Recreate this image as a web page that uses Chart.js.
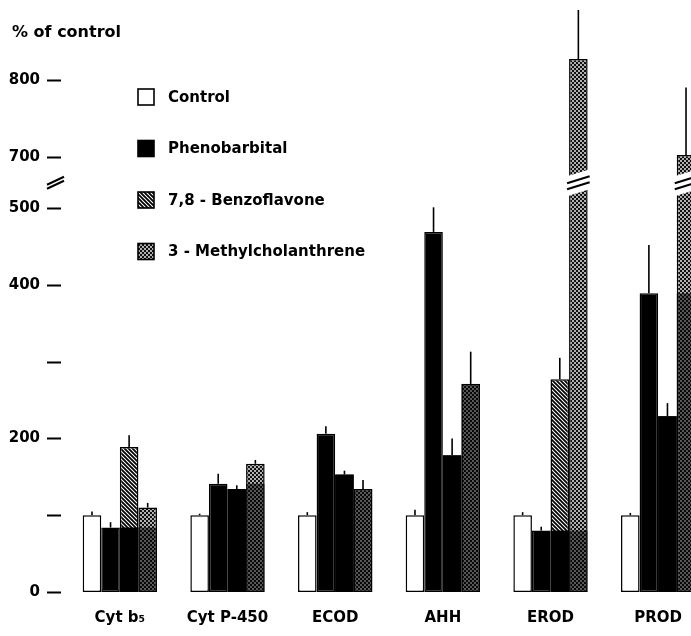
<!DOCTYPE html>
<html>
<head>
<meta charset="utf-8">
<script src="https://cdn.jsdelivr.net/npm/chart.js@4.4.1/dist/chart.umd.min.js"></script>
<style>
    html, body { margin: 0; padding: 0; background: #fff; overflow: hidden; }
    #wrap { width: 712px; height: 636px; position: relative; }
</style>
</head>
<body>
<div id="wrap"><canvas id="chart"></canvas></div>
<script>
// values in % of control, *Top = mean + SD (upper whisker end)
const categories = ["Cyt b\u2085", "Cyt P-450", "ECOD", "AHH", "EROD", "PROD"];
const seriesNames = ["Control", "Phenobarbital", "7,8 - Benzoflavone", "3 - Methylcholanthrene"];

const control = [100, 100, 100, 100, 100, 100];
const controlTop = [105, 102, 104, 107, 104, 103];
const phenobarbital = [84, 141, 206, 469, 80, 389];
const phenobarbitalTop = [91, 154, 216, 501, 85, 452];
const benzoflavone = [189, 134, 153, 178, 277, 229];
const benzoflavoneTop = [204, 139, 158, 200, 305, 246];
const methylcholanthrene = [110, 167, 134, 271, 827, 702];
const methylcholanthreneTop = [116, 172, 146, 313, 891, 790];

const tickValues = [0, 100, 200, 300, 400, 500, 700, 800];
const tickLabels = ["0", "", "200", "", "400", "500", "700", "800"];

// broken axis: everything from 700 up is shifted down
const AXIS_GAP = 133;
const BREAK_AT = 533;
function toDisplay(v) {
    return v >= 700 ? v - AXIS_GAP : v;
}

const values = [control, phenobarbital, benzoflavone, methylcholanthrene];
const tops = [controlTop, phenobarbitalTop, benzoflavoneTop, methylcholanthreneTop];

function makePattern(draw) {
    const c = document.createElement("canvas");
    c.width = 4;
    c.height = 4;
    const g = c.getContext("2d");
    draw(g);
    return g.createPattern(c, "repeat");
}

const hatch = makePattern(g => {
    g.fillStyle = "#fff";
    g.fillRect(0, 0, 4, 4);
    g.strokeStyle = "#000";
    g.lineWidth = 1.8;
    g.beginPath();
    g.moveTo(-1, -1); g.lineTo(5, 5);
    g.moveTo(-1, 3); g.lineTo(1, 5);
    g.moveTo(3, -1); g.lineTo(5, 1);
    g.stroke();
});

const dots = makePattern(g => {
    g.fillStyle = "#111";
    g.fillRect(0, 0, 4, 4);
    g.fillStyle = "#fff";
    g.beginPath();
    g.arc(1, 1, 0.9, 0, Math.PI * 2);
    g.arc(3, 3, 0.9, 0, Math.PI * 2);
    g.fill();
});

const fills = ["#fff", "#000", hatch, dots];

const extras = {
    id: "extras",
    afterDatasetsDraw(chart) {
        const ctx = chart.ctx;
        const y = chart.scales.y;
        const metas = values.map((v, i) => chart.getDatasetMeta(i));

        ctx.save();

        // print makes the lower part of the shaded bars look black
        [2, 3].forEach(d => {
            metas[d].data.forEach((bar, i) => {
                const lvl = Math.min(phenobarbital[i], values[d][i]);
                const yTop = y.getPixelForValue(toDisplay(lvl));
                ctx.fillStyle = d === 2 ? "#000" : "rgba(0,0,0,0.5)";
                ctx.fillRect(bar.x - bar.width / 2, yTop, bar.width, bar.base - yTop);
            });
        });

        // error bars
        ctx.strokeStyle = "#000";
        ctx.lineWidth = 1.6;
        metas.forEach((meta, d) => {
            meta.data.forEach((bar, i) => {
                const yErr = y.getPixelForValue(toDisplay(tops[d][i]));
                ctx.beginPath();
                ctx.moveTo(bar.x, bar.y);
                ctx.lineTo(bar.x, yErr);
                ctx.stroke();
            });
        });

        // break marks on the tall bars
        const yc = y.getPixelForValue(BREAK_AT);
        const s = 7;
        metas.forEach((meta, d) => {
            meta.data.forEach((bar, i) => {
                if (values[d][i] < 700) return;
                const x0 = bar.x - bar.width / 2 - 2;
                const x1 = bar.x + bar.width / 2 + 2;
                ctx.fillStyle = "#fff";
                ctx.beginPath();
                ctx.moveTo(x0, yc + s / 2 - 10);
                ctx.lineTo(x1, yc - s / 2 - 10);
                ctx.lineTo(x1, yc - s / 2 + 10);
                ctx.lineTo(x0, yc + s / 2 + 10);
                ctx.closePath();
                ctx.fill();
                ctx.lineWidth = 2;
                [-3, 3].forEach(o => {
                    ctx.beginPath();
                    ctx.moveTo(x0, yc + s / 2 + o);
                    ctx.lineTo(x1, yc - s / 2 + o);
                    ctx.stroke();
                });
            });
        });

        ctx.restore();
    },
    afterDraw(chart) {
        const ctx = chart.ctx;
        const y = chart.scales.y;
        const area = chart.chartArea;
        const L = area.left;

        ctx.save();
        ctx.strokeStyle = "#000";
        ctx.fillStyle = "#000";

        // y tick dashes
        ctx.lineWidth = 2;
        y.ticks.forEach(t => {
            const py = Math.round(y.getPixelForValue(t.value)) + 0.5;
            ctx.beginPath();
            ctx.moveTo(L - 19, py);
            ctx.lineTo(L - 5, py);
            ctx.stroke();
        });

        // axis break
        const yc = y.getPixelForValue(BREAK_AT);
        [-2, 2].forEach(o => {
            ctx.beginPath();
            ctx.moveTo(L - 19, yc + 4 + o);
            ctx.lineTo(L - 2, yc - 4 + o);
            ctx.stroke();
        });

        // axis title
        ctx.font = "bold 16px 'DejaVu Sans'";
        ctx.textBaseline = "middle";
        ctx.textAlign = "left";
        ctx.fillText("% of control", 12, 33);

        // legend
        ctx.font = "bold 15px 'DejaVu Sans'";
        chart.data.datasets.forEach((ds, i) => {
            const cy = 97 + i * 51.5;
            const bx = L + 72;
            ctx.fillStyle = ds.backgroundColor;
            ctx.fillRect(bx, cy - 8, 16, 16);
            ctx.lineWidth = 1.6;
            ctx.strokeRect(bx, cy - 8, 16, 16);
            ctx.fillStyle = "#000";
            ctx.fillText(ds.label, bx + 30, cy + 1);
        });

        ctx.restore();
    }
};

Chart.defaults.font.family = "'DejaVu Sans'";
Chart.defaults.font.weight = "bold";
Chart.defaults.font.size = 15;
Chart.defaults.color = "#000";

new Chart(document.getElementById("chart"), {
    type: "bar",
    data: {
        labels: categories,
        datasets: values.map((v, i) => ({
            label: seriesNames[i],
            data: v.map(toDisplay),
            backgroundColor: fills[i],
            borderColor: "#000",
            borderWidth: 1.5,
            borderSkipped: false,
            categoryPercentage: 0.69,
            barPercentage: 1.0
        }))
    },
    options: {
        responsive: true,
        maintainAspectRatio: false,
        devicePixelRatio: 1,
        animation: false,
        layout: { padding: 0 },
        plugins: {
            legend: { display: false },
            tooltip: { enabled: false }
        },
        scales: {
            x: {
                grid: { display: false, drawTicks: false },
                border: { display: false },
                ticks: { padding: 17, font: { size: 15, weight: "bold" } },
                afterFit: s => {
                    s.height = 44;
                    s.paddingLeft = 0;
                    s.paddingRight = 0;
                }
            },
            y: {
                min: 0,
                max: 771,
                grid: { display: false, drawTicks: false },
                border: { display: false },
                afterBuildTicks: s => {
                    s.ticks = tickValues.map(v => ({ value: toDisplay(v) }));
                },
                ticks: {
                    padding: 26,
                    font: { size: 15, weight: "bold" },
                    callback: (val, i) => tickLabels[i]
                },
                afterFit: s => {
                    s.width = 66;
                    s.paddingTop = 0;
                    s.paddingBottom = 0;
                }
            }
        }
    },
    plugins: [extras]
});
</script>
</body>
</html>
